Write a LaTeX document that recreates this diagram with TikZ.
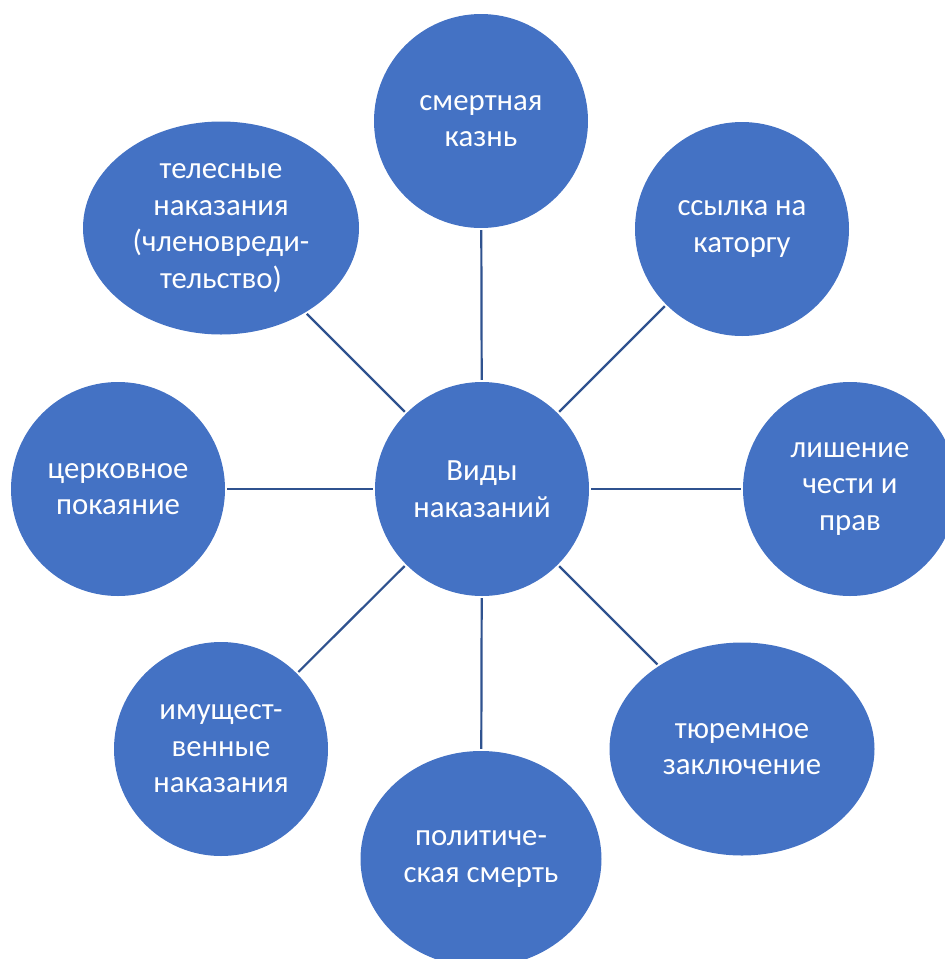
\documentclass[tikz,border=0pt]{standalone}
\usepackage{fontspec}
\setmainfont{Carlito}
\usetikzlibrary{shapes.geometric}
\definecolor{bubble}{RGB}{68,114,196}
\definecolor{linkc}{RGB}{47,82,143}
\begin{document}
\begin{tikzpicture}[x=1pt,y=-1pt,
  bub/.style={ellipse, fill=bubble, text=white, inner sep=0pt, align=center,
    font=\fontsize{30.8}{36.5}\selectfont},
  circ/.style={bub, minimum width=214pt, minimum height=214pt},
  conn/.style={draw=linkc, line width=2.2pt, shorten <=2pt, shorten >=2pt}]
\useasboundingbox (0,0) rectangle (945,959);
\clip (0,0) rectangle (945,959);
\node[circ] (c) at (482,489) {Виды\\наказаний};
\node[circ] (top) at (481,121) {смертная\\казнь};
\node[circ] (tr) at (742,229) {ссылка на\\каторгу};
\node[circ] (r) at (850,489) {лишение\\чести и\\прав};
\node[bub, minimum width=265pt, minimum height=213pt] (br) at (742,749) {тюремное\\заключение};
\node[bub, minimum width=241pt, minimum height=216pt] (b) at (481,859) {политиче-\\ская смерть};
\node[circ] (bl) at (221,749) {имущест-\\венные\\наказания};
\node[circ] (l) at (118,489) {церковное\\покаяние};
\node[bub, minimum width=276pt, minimum height=213pt] (tl) at (221,228) {телесные\\наказания\\(членовреди-\\тельство)};
\draw[conn] (c) -- (top);
\draw[conn] (c) -- (tr);
\draw[conn] (c) -- (r);
\draw[conn] (c) -- (br);
\draw[conn] (c) -- (b);
\draw[conn] (c) -- (bl);
\draw[conn] (c) -- (l);
\draw[conn] (c) -- (tl);
\end{tikzpicture}
\end{document}
